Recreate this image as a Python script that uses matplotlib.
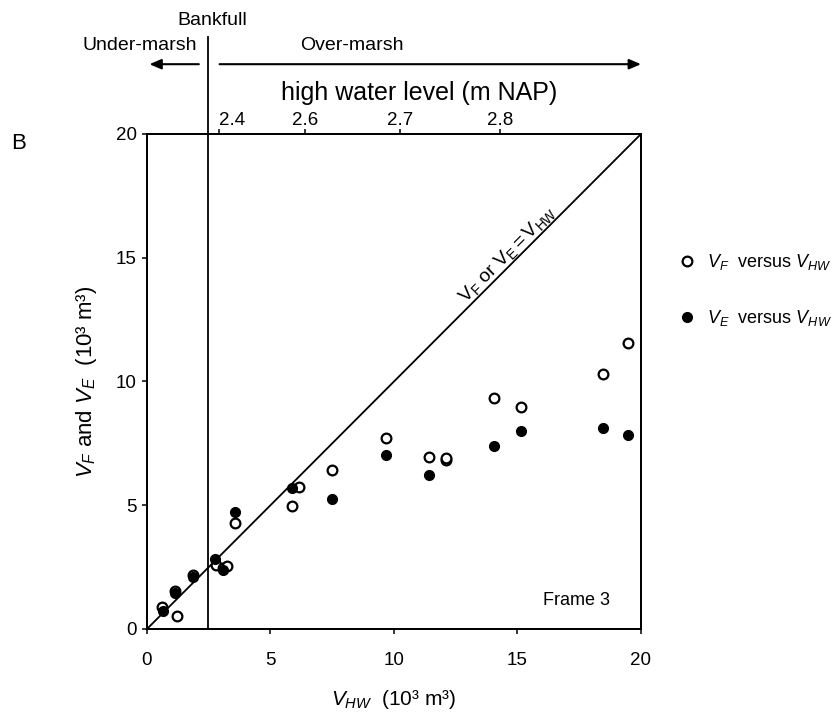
import matplotlib
matplotlib.use('Agg')
import matplotlib.pyplot as plt

plt.rcParams.update({
    'font.family': 'sans-serif',
    'font.sans-serif': ['Liberation Sans', 'DejaVu Sans'],
    'mathtext.fontset': 'custom',
    'mathtext.rm': 'Liberation Sans',
    'mathtext.it': 'Liberation Sans:italic',
    'mathtext.bf': 'Liberation Sans:bold',
    'axes.linewidth': 1.3,
    'xtick.major.width': 1.1,
    'ytick.major.width': 1.1,
    'xtick.major.size': 3.5,
    'ytick.major.size': 3.5,
    'xtick.direction': 'out',
    'ytick.direction': 'out',
})

# flood volume V_F against high-water volume V_HW (10^3 m^3)
vhw_f = [0.61, 1.13, 1.20, 1.88, 2.79, 3.06, 3.23, 3.58, 5.86, 6.17, 7.50,
         9.66, 11.43, 12.10, 12.12, 14.04, 15.14, 18.47, 19.46]
vf = [0.88, 1.55, 0.53, 2.20, 2.57, 2.47, 2.55, 4.30, 4.97, 5.73, 6.44,
      7.70, 6.96, 6.84, 6.92, 9.33, 8.96, 10.29, 11.56]

# ebb volume V_E against V_HW
vhw_e = [0.66, 1.13, 1.88, 2.75, 3.06, 3.58, 5.86, 7.50, 9.66, 11.43,
         14.04, 15.14, 18.47, 19.46]
ve = [0.72, 1.45, 2.12, 2.82, 2.38, 4.74, 5.68, 5.25, 7.03, 6.22,
      7.39, 7.99, 8.13, 7.84]

bankfull = 2.48
hw_tick_pos = [2.91, 6.40, 10.24, 14.29]
hw_tick_labels = ['2.4', '2.6', '2.7', '2.8']

fig = plt.figure(figsize=(8.37, 7.2), dpi=100)
ax = fig.add_axes([0.1756, 0.1264, 0.5902, 0.6875])

ax.plot([0, 20], [0, 20], color='black', lw=1.3, zorder=2)
ax.plot(vhw_f, vf, 'o', ms=7, mfc='white', mec='black', mew=1.6, zorder=3,
        label=r'$V_F$  versus $V_{HW}$')
ax.plot(vhw_e, ve, 'o', ms=7, mfc='black', mec='black', mew=1.0, zorder=4,
        label=r'$V_E$  versus $V_{HW}$')

ax.set_xlim(0, 20)
ax.set_ylim(0, 20)
ax.set_xticks([0, 5, 10, 15, 20])
ax.set_yticks([0, 5, 10, 15, 20])
ax.tick_params(axis='x', labelsize=13.5, pad=13)
ax.tick_params(axis='y', labelsize=13.5, pad=4)
ax.set_xlabel(r'$V_{HW}$  (10³ m³)', fontsize=15, labelpad=14)
ax.set_ylabel(r'$V_F$ and $V_E$  (10³ m³)', fontsize=16, labelpad=12)

# top axis: high water level
ax2 = ax.twiny()
ax2.set_xlim(0, 20)
ax2.set_xticks(hw_tick_pos, hw_tick_labels)
ax2.tick_params(labelsize=13.5, pad=0)
lbls = ax2.get_xticklabels()
lbls[0].set_horizontalalignment('left')
ax2.spines[:].set_linewidth(1.3)

trans = ax.get_xaxis_transform()
ax.plot([bankfull, bankfull], [0, 1.196], color='black', lw=1.3,
        transform=trans, clip_on=False, zorder=5)

ax.annotate('', xy=(0.1, 1.141), xytext=(2.1, 1.141), xycoords=trans,
            textcoords=trans, annotation_clip=False,
            arrowprops=dict(arrowstyle='-|>,head_length=0.7,head_width=0.3',
                            color='black', lw=1.5, shrinkA=0, shrinkB=0))
ax.annotate('', xy=(20.0, 1.141), xytext=(2.94, 1.141), xycoords=trans,
            textcoords=trans, annotation_clip=False,
            arrowprops=dict(arrowstyle='-|>,head_length=0.7,head_width=0.3',
                            color='black', lw=1.5, shrinkA=0, shrinkB=0))

ax.text(2.63, 1.230, 'Bankfull', transform=trans, ha='center', va='center', fontsize=14)
ax.text(-0.3, 1.178, 'Under-marsh', transform=trans, ha='center', va='center', fontsize=14)
ax.text(8.28, 1.178, 'Over-marsh', transform=trans, ha='center', va='center', fontsize=14)
ax.text(11.0, 1.083, 'high water level (m NAP)', transform=trans, ha='center',
        va='center', fontsize=18)

ax.text(14.6, 15.15, r'$\mathrm{V_F}$ or $\mathrm{V_E = V_{HW}}$', rotation=45,
        rotation_mode='anchor', ha='center', va='center', fontsize=14)
ax.text(17.4, 1.17, 'Frame 3', ha='center', va='center', fontsize=13)

fig.text(0.013, 0.801, 'B', fontsize=16, ha='left', va='center')

ax.legend(loc='center left', bbox_to_anchor=(1.068, 0.685), frameon=False,
          fontsize=13, handlelength=0.6, handletextpad=0.8, labelspacing=2.0,
          borderaxespad=0)

fig.savefig('out.png', dpi=100)
